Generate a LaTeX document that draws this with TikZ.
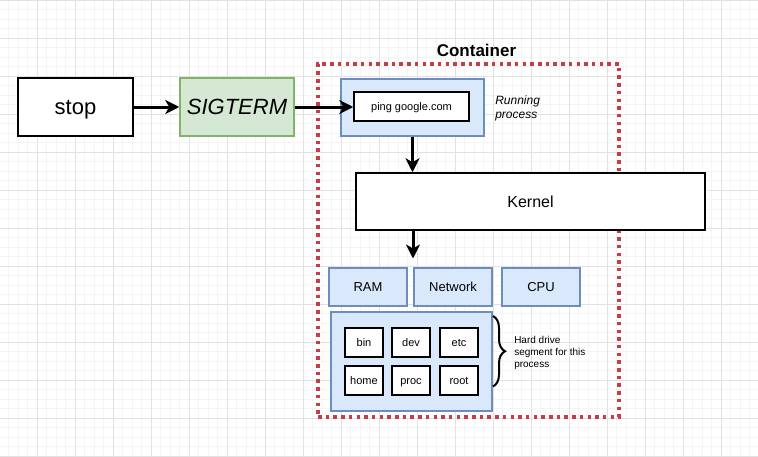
\documentclass[tikz,border=0pt]{standalone}
\usepackage{fontspec}
\setmainfont{Liberation Sans}
\usetikzlibrary{arrows.meta,decorations.pathreplacing}
\definecolor{gridmaj}{HTML}{E2E2E2}
\definecolor{gridmin}{HTML}{F4F4F4}
\definecolor{greenfill}{HTML}{D5E8D4}
\definecolor{greenline}{HTML}{82B366}
\definecolor{bluefill}{HTML}{DAE8FC}
\definecolor{blueline}{HTML}{6C8EBF}
\definecolor{contred}{RGB}{195,62,72}
\newcommand\pxu{0.75pt}
\tikzset{
  boxbase/.style={draw, rectangle, inner sep=0pt, line width=1.5*\pxu},
  plainbox/.style={boxbase, fill=white, draw=black},
  greenbox/.style={boxbase, fill=greenfill, draw=greenline},
  bluebox/.style={boxbase, fill=bluefill, draw=blueline},
  conn/.style={line width=3*\pxu, -{Stealth[length=14*\pxu, width=14*\pxu, inset=4*\pxu]}},
  contbox/.style={rectangle, draw=contred, line width=3.5*\pxu, dash pattern=on 3.5*\pxu off 4.2*\pxu},
  sz/.style 2 args={minimum width=#1*\pxu, minimum height=#2*\pxu},
  capc/.style={text height=#1, text depth=0pt},
}
\begin{document}
\begin{tikzpicture}[x=\pxu, y=-\pxu]
\useasboundingbox (0,0) rectangle (758,457);
\fill[white] (0,0) rectangle (758,457);
% grid
\foreach \i in {0,...,80} {
  \draw[gridmin, line width=0.8*\pxu] ({-0.7+9.5*\i},0) -- ({-0.7+9.5*\i},457);
}
\foreach \i in {0,...,49} {
  \draw[gridmin, line width=0.8*\pxu] (0,{0.3+9.5*\i}) -- (758,{0.3+9.5*\i});
}
\foreach \i in {0,...,20} {
  \draw[gridmaj, line width=1*\pxu] ({37.3+38*\i},0) -- ({37.3+38*\i},457);
}
\foreach \i in {0,...,12} {
  \draw[gridmaj, line width=1*\pxu] (0,{0.3+38*\i}) -- (758,{0.3+38*\i});
}

% container
\node[contbox, sz={301}{353}] (cont) at (468.5,240.5) {};
\node[font=\fontsize{12.75pt}{15pt}\selectfont\bfseries] (contlbl) at (476.5,50) {Container};

% left boxes
\node[plainbox, sz={115}{58}, capc=11.8pt, font=\fontsize{16.5pt}{19pt}\selectfont] (stop) at (75.5,107) {stop};
\node[greenbox, sz={114}{58}, capc=11.8pt, font=\fontsize{16.5pt}{19pt}\selectfont\itshape] (sig) at (237,107) {SIGTERM};

% running process
\node[bluebox, sz={143}{57}] (run) at (412.5,107.5) {};
\node[plainbox, sz={115}{29}, capc=5.9pt, font=\fontsize{8.25pt}{10pt}\selectfont] (ping) at (411.5,106.5) {ping google.com};
\node[anchor=west, align=left, inner sep=0pt, font=\fontsize{9pt}{10.5pt}\selectfont\itshape] (runlbl) at (495,108) {Running\\process};

% kernel
\node[plainbox, sz={349}{57}, capc=8.6pt, font=\fontsize{12pt}{14pt}\selectfont] (kernel) at (530.5,201.5) {Kernel};

% resources
\tikzset{resbox/.style={bluebox, sz={78}{38}, capc=7pt, font=\fontsize{9.75pt}{12pt}\selectfont}}
\node[resbox] (ram) at (368,287) {RAM};
\node[resbox] (net) at (453,287) {Network};
\node[resbox] (cpu) at (541,287) {CPU};

% hard drive
\node[bluebox, sz={161}{99}] (hd) at (411.5,361.5) {};
\tikzset{dirbox/.style={plainbox, sz={38}{29}, capc=5.9pt, font=\fontsize{8.25pt}{10pt}\selectfont}}
\node[dirbox] (bin) at (364,342.5) {bin};
\node[dirbox] (dev) at (411,342.5) {dev};
\node[dirbox] (etc) at (459,342.5) {etc};
\node[dirbox] (home) at (364,380.5) {home};
\node[dirbox] (proc) at (411,380.5) {proc};
\node[dirbox] (root) at (459,380.5) {root};

\coordinate (btop) at (493,316);
\coordinate (bbot) at (493,386.5);
\draw[line width=2*\pxu, decorate, decoration={brace, amplitude=12*\pxu}] (btop) -- (bbot);
\node[anchor=west, align=left, inner sep=0pt, font=\fontsize{7.5pt}{9pt}\selectfont] (hdlbl) at (514,353) {Hard drive\\segment for this\\process};

% connectors
\draw[conn] (stop.east) -- (sig.west);
\draw[conn] (sig.east) -- (sig.east -| ping.west);
\draw[conn] (run.south) -- (run.south |- kernel.north);
\coordinate (kdown) at (413,258.5);
\draw[conn] (kernel.south -| kdown) -- (kdown);
\end{tikzpicture}
\end{document}
